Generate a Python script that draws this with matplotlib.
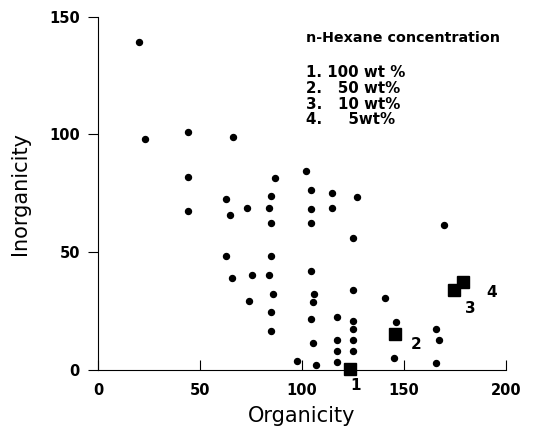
import numpy as np
import matplotlib.pyplot as plt

# scattered points (organicity, inorganicity)
org = [20, 23, 44, 66, 44, 87, 102, 104.5, 85, 63, 44, 64.5, 73, 84, 104.5,
       85, 104.5, 63, 85, 104.5, 65.5, 75.5, 84, 86, 106, 105.5, 74, 85, 104.5,
       85, 105.5, 97.5, 107, 114.5, 127, 114.5, 125, 169.5, 125, 140.5, 117,
       125, 125, 146, 117, 125, 165.5, 167, 117, 125, 145, 117, 165.5]
inorg = [139, 98, 101, 99, 82, 81.5, 84.5, 76.5, 74, 72.5, 67.5, 66, 69, 69, 68.5,
         62.5, 62.5, 48.5, 48.5, 42, 39, 40.5, 40.5, 32.5, 32.5, 29, 29.5, 24.5, 21.5,
         16.5, 11.5, 4, 2, 75, 73.5, 69, 56, 61.5, 34, 30.5, 22.5,
         21, 17.5, 20.5, 13, 13, 17.5, 13, 8, 8, 5, 3.5, 3]

# n-hexane samples
hex_org = [123.5, 145.5, 174.5, 179]
hex_inorg = [0.5, 15.5, 34, 37.5]
hex_labels = ["1", "2", "3", "4"]
label_pos = [(126, -6.5), (156, 11), (182.5, 26), (193, 33)]

legend_lines = ["1. 100 wt %", "2.   50 wt%", "3.   10 wt%", "4.     5wt%"]

fig = plt.figure(figsize=(5.35, 4.36), dpi=100)
ax = fig.add_axes([0.183, 0.151, 0.763, 0.811])

ax.plot(org, inorg, 'o', color='black', markersize=4.3, clip_on=False)
ax.plot(hex_org, hex_inorg, 's', color='black', markersize=9, clip_on=False)
for lab, (lx, ly) in zip(hex_labels, label_pos):
    ax.text(lx, ly, lab, fontsize=11, fontweight='bold', ha='center', va='center',
            clip_on=False)

ax.text(0.51, 0.94, "n-Hexane concentration", transform=ax.transAxes,
        fontsize=10.3, fontweight='bold', va='center')
legend_y = [0.841, 0.796, 0.751, 0.708]
for line, ly in zip(legend_lines, legend_y):
    ax.text(0.51, ly, line, transform=ax.transAxes,
            fontsize=10.8, fontweight='bold', va='center')

ax.set_xlim(0, 200)
ax.set_ylim(0, 150)
ax.set_xticks([0, 50, 100, 150, 200])
ax.set_yticks([0, 50, 100, 150])
ax.spines['top'].set_visible(False)
ax.spines['right'].set_visible(False)
ax.tick_params(axis='x', direction='in', length=7, labelsize=10.5, pad=9)
ax.tick_params(axis='y', direction='out', length=7, labelsize=10.5, pad=6)
for t in ax.get_xticklabels() + ax.get_yticklabels():
    t.set_fontweight('bold')

ax.set_xlabel("Organicity", fontsize=15, labelpad=6)
ax.set_ylabel("Inorganicity", fontsize=15, labelpad=14)

fig.savefig("out.png", dpi=100)
